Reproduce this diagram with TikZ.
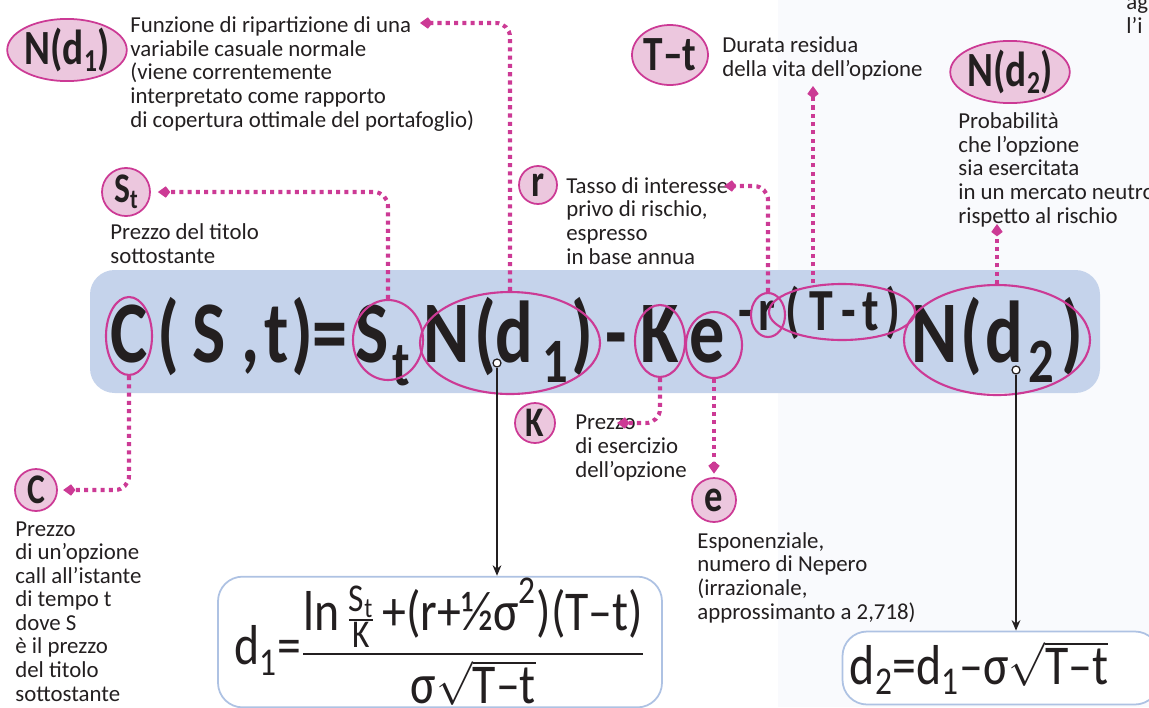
\documentclass[tikz,border=0pt]{standalone}
\usepackage{fontspec}
\usepackage{amsmath}
\setmainfont{Carlito}
\newfontfamily\boldcond[FakeStretch=0.8]{Carlito}
\newfontfamily\formcond[FakeStretch=0.85]{Carlito}
\usetikzlibrary{shapes.geometric}
\usetikzlibrary{calc,arrows.meta}
\definecolor{bs-text}{HTML}{231F20}
\definecolor{bs-magenta}{HTML}{CC3A95}
\definecolor{bs-pink}{HTML}{ECC7DE}
\definecolor{bs-band}{HTML}{C5D3EB}
\definecolor{bs-frame}{HTML}{AEC2E3}
\definecolor{bs-tint}{HTML}{F9FAFD}
\newlength\pxu
\setlength\pxu{0.02cm}
\newcommand\lowsub[1]{\raisebox{-0.3ex}{\scalebox{0.65}{#1}}}

\begin{document}
\begin{tikzpicture}[
    x=0.02cm, y=-0.02cm,          % one unit = one pixel of the page, y downwards
    font=\fontsize{13}{13.4}\selectfont,
    text=bs-text
  ]

  % Global Style Definitions
  \tikzset{
    tag/.style={ellipse, draw=bs-magenta, fill=bs-pink, line width=1pt, inner sep=0pt, font=\boldcond\bfseries\fontsize{28}{28}\selectfont},
    ring/.style={ellipse, draw=bs-magenta, line width=1.2pt, inner sep=0pt},
    desc/.style={anchor=base west, align=left, inner sep=0pt}, % base = last line
    glyph/.style={anchor=base, inner sep=0pt, font=\boldcond\bfseries\fontsize{50}{50}\selectfont},
    subglyph/.style={glyph, font=\boldcond\bfseries\fontsize{36}{36}\selectfont},
    supglyph/.style={glyph, font=\boldcond\bfseries\fontsize{34}{34}\selectfont},
    dotarrow/.style={draw=bs-magenta, line width=2.3pt, dash pattern=on 2.3pt off 2.4pt, rounded corners=8pt, -{Kite[length=7pt,width=6.5pt,inset=2.5pt]}},
    thinarrow/.style={draw=bs-text, line width=0.7pt, -{Stealth[length=6pt,width=5pt]}},
    knob/.style={circle, draw=bs-text, fill=white, line width=0.7pt, minimum size=8\pxu, inner sep=0pt},
    formbox/.style={draw=bs-frame, fill=white, line width=1pt, rounded corners=14pt, inner sep=1pt, font=\formcond\fontsize{32}{34}\selectfont}
  }

  \useasboundingbox (0,0) rectangle (1149,707);
  \clip (0,0) rectangle (1149,707);
  \fill[bs-tint] (778,0) rectangle (1149,707);

  % Formula band
  \fill[bs-band, rounded corners=14pt] (90,270) rectangle (1100,393);

  % Main formula, glyph by glyph
  \foreach \gx/\gt [count=\i] in {129/C, 168/{(}, 209/S, 251/{,}, 277/t, 302/{)}, 330/=, 372/S,
      447/N, 485/{(}, 514/d, 582/{)}, 616/-, 660/K, 707/e, 935/N, 971/{(}, 1004/d, 1072/{)}}
    \node[glyph] (g\i) at (\gx,362) {\gt};
  \node[subglyph] (gSubT) at (401,385) {t};
  \node[subglyph] (gSubA) at (555,382) {1};
  \node[subglyph] (gSubB) at (1041,382) {2};
  \foreach \gx/\gt [count=\i] in {746/-, 767/r, 793/{(}, 821/T, 849/-, 871/t, 893/{)}}
    \node[supglyph] (s\i) at (\gx,330) {\gt};

  % Rings round the terms
  \node (eC) [ring, minimum width=46\pxu, minimum height=78\pxu] at (129,336) {};
  \node (eSt) [ring, minimum width=70\pxu, minimum height=80\pxu] at (388,340) {};
  \node (eNd1) [ring, minimum width=180\pxu, minimum height=102\pxu] at (510,343) {};
  \node (eK) [ring, minimum width=50\pxu, minimum height=72\pxu] at (660,341) {};
  \node (ee) [ring, minimum width=56\pxu, minimum height=66\pxu] at (714,345) {};
  \node (er) [ring, minimum width=34\pxu, minimum height=44\pxu] at (768,315) {};
  \node (eTt) [ring, minimum width=146\pxu, minimum height=56\pxu] at (842,312) {};
  \node (eNd2) [ring, minimum width=186\pxu, minimum height=110\pxu] at (997,340) {};

  % Pink tags with their notes
  \node (lNd1) [tag, minimum width=110\pxu, minimum height=58\pxu] at (67,50) {N(d\lowsub{1})};
  \node (tNd1) [desc] at (130,127) {Funzione di ripartizione di una\\variabile casuale normale\\(viene correntemente\\interpretato come rapporto\\di copertura ottimale del portafoglio)};

  \node (lTt) [tag, minimum width=76\pxu, minimum height=60\pxu] at (670,55) {T–t};
  \node (tTt) [desc] at (722,76) {Durata residua\\della vita dell’opzione};

  \node (lNd2) [tag, minimum width=110\pxu, minimum height=60\pxu] at (1010,72) {N(d\lowsub{2})};
  \node (tNd2) [desc] at (958,223) {Probabilità\\che l’opzione\\sia esercitata\\in un mercato neutro\\rispetto al rischio};

  \node (lSt) [tag, minimum width=48\pxu, minimum height=46\pxu, font=\boldcond\bfseries\fontsize{24}{24}\selectfont] at (126,192) {S\lowsub{t}};
  \node (tSt) [desc] at (110,263) {Prezzo del titolo\\sottostante};

  \node (lr) [tag, minimum width=38\pxu, minimum height=38\pxu, font=\boldcond\bfseries\fontsize{26}{26}\selectfont] at (538,185) {r};
  \node (tr) [desc] at (566,264) {Tasso di interesse\\privo di rischio,\\espresso\\in base annua};

  \node (lK) [tag, minimum width=40\pxu, minimum height=40\pxu, font=\boldcond\bfseries\fontsize{24}{24}\selectfont] at (535,423) {K};
  \node (tK) [desc] at (575,477) {Prezzo\\di esercizio\\dell’opzione};

  \node (lC) [tag, minimum width=42\pxu, minimum height=42\pxu, font=\boldcond\bfseries\fontsize{24}{24}\selectfont] at (36,490) {C};
  \node (tC) [desc] at (15,701) {Prezzo\\di un’opzione\\call all’istante\\di tempo t\\dove S\\è il prezzo\\del titolo\\sottostante};

  \node (le) [tag, minimum width=44\pxu, minimum height=44\pxu, font=\boldcond\bfseries\fontsize{26}{26}\selectfont] at (714,500) {e};
  \node (te) [desc] at (697,619) {Esponenziale,\\numero di Nepero\\(irrazionale,\\approssimanto a 2,718)};

  \node (tCut) [desc] at (1126,33) {ag\\l’i};

  % Free ends of the dotted arrows
  \coordinate (aNd1) at (420,23);
  \coordinate (aR) at (724,186);
  \coordinate (aTt) at (813,86);
  \coordinate (aNd2) at (997,224);
  \coordinate (aK) at (617,423);

  \draw[dotarrow, shorten >=3pt] (eC.south) |- (lC.east);
  \draw[dotarrow, shorten >=4pt] (eSt.north) |- (lSt.east);
  \draw[dotarrow] (eNd1.north) |- (aNd1);
  \draw[dotarrow] (er.north) |- (aR);
  \draw[dotarrow] (eTt.north -| aTt) -- (aTt);
  \draw[dotarrow] (eNd2.north) -- (aNd2);
  \draw[dotarrow] (eK.south) |- (aK);
  \draw[dotarrow, shorten >=2pt] (ee.south) -- (le.north);

  % Boxes for d1 and d2
  \node (boxD1) [formbox, minimum width=444\pxu, minimum height=125\pxu] at (440,642)
    {$\text{d}_{\text{1}}\text{=}\dfrac{\text{ln}\,\frac{\text{S}_{\text{t}}}{\text{K}}\,\text{+(r+½σ}^{\text{2}}\text{)(T–t)}}{\text{σ}\sqrt{\text{T–t}}}$};
  \node (boxD2) [formbox, minimum width=317\pxu, minimum height=73\pxu, text width=172pt, align=left] at (1001,668)
    {$\text{d}_{\text{2}}\text{=d}_{\text{1}}\text{–σ}\sqrt{\text{T–t}}$};

  \node (knob1) [knob] at (497,363) {};
  \node (knob2) [knob] at (1016,370) {};
  \draw[thinarrow] (knob1) -- (knob1 |- boxD1.north);
  \draw[thinarrow] (knob2) -- (knob2 |- boxD2.north);

\end{tikzpicture}
\end{document}
